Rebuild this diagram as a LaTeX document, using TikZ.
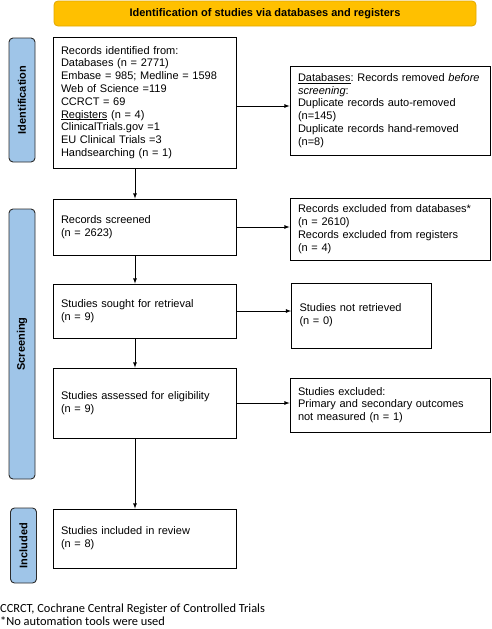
\documentclass[tikz,border=0pt]{standalone}
\usepackage{fontspec}
\setmainfont{Liberation Sans}
\newfontfamily\notefont{Carlito}
\usetikzlibrary{arrows}
\definecolor{hdrfill}{HTML}{FFC000}
\definecolor{hdrdraw}{HTML}{E0A800}
\definecolor{phasefill}{HTML}{9FC5E8}
\definecolor{phasedraw}{HTML}{2B2B2B}
\newcommand{\ulword}[1]{\underline{\smash{#1}}}
\tikzset{
->, % connectors are directed
>=latex, % small filled arrow heads
box/.style={draw, line width=0.8pt, align=left, inner xsep=8pt, font=\frenchspacing\fontsize{11}{12.8}\selectfont}, % the record boxes
phase/.style={draw=phasedraw, fill=phasefill, line width=0.9pt, rounded corners=4pt, rotate=90, minimum height=26pt, font=\bfseries\fontsize{11}{13}\selectfont}, % the stage labels on the left
}

\begin{document}
\begin{tikzpicture}[x=1pt, y=-1pt]
                \useasboundingbox (0,0) rectangle (491,629);
                \coordinate (spine) at (135,0);

                \node[draw=hdrdraw, fill=hdrfill, line width=0.8pt, rounded corners=4pt, minimum width=422pt, minimum height=25pt, font=\bfseries\fontsize{11}{13}\selectfont] (head) at (265,13.5) {Identification of studies via databases and registers};

                \node[phase, minimum width=124pt] (pid) at (22,100) {Identification};
                \node[phase, minimum width=270pt] (pscr) at (22,344) {Screening};
                \node[phase, minimum width=75pt] (pinc) at (23.5,545.5) {Included};

                \node[box, minimum width=183pt, minimum height=131pt, text width=167pt] (ident) at (144.5,102.5) {Records identified from:\\Databases (n = 2771)\\Embase = 985; Medline = 1598\\Web of Science =119\\CCRCT = 69\\\ulword{Registers} (n = 4)\\ClinicalTrials.gov =1\\EU Clinical Trials =3\\Handsearching (n = 1)};
                \node[box, minimum width=200pt, minimum height=89pt, text width=184pt] (removed) at (390,110.5) {\ulword{Databases}: Records removed \emph{before}\\\emph{screening}:\\Duplicate records auto-removed\\(n=145)\\Duplicate records hand-removed\\(n=8)};

                \node[box, minimum width=183pt, minimum height=56pt, text width=167pt] (screened) at (144.5,227) {Records screened\\(n = 2623)};
                \node[box, minimum width=200pt, minimum height=62pt, text width=184pt] (excl) at (390,229) {Records excluded from databases*\\(n = 2610)\\Records excluded from registers\\(n = 4)};

                \node[box, minimum width=183pt, minimum height=54pt, text width=167pt] (sought) at (144.5,311) {Studies sought for retrieval\\(n = 9)};
                \node[box, minimum width=140pt, minimum height=65pt, text width=124pt] (notret) at (361.5,315.5) {Studies not retrieved\\(n = 0)};

                \node[box, minimum width=183pt, minimum height=70pt, text width=167pt] (assessed) at (144.5,403) {Studies assessed for eligibility\\(n = 9)};
                \node[box, minimum width=200pt, minimum height=54pt, text width=184pt] (exclstud) at (390,405) {Studies excluded:\\Primary and secondary outcomes\\not measured (n = 1)};

                \node[box, minimum width=183pt, minimum height=59pt, text width=167pt] (incl) at (144.5,538.5) {Studies included in review\\(n = 8)};

                \node[anchor=base west, inner sep=0pt, align=left, font=\notefont\fontsize{12.4}{13.2}\selectfont] (note) at (0,625.5) {CCRCT, Cochrane Central Register of Controlled Trials\\*No automation tools were used};

                \draw[line width=0.8pt]
                    (spine |- ident.south) -- (spine |- screened.north);
                \draw[line width=0.8pt]
                    (spine |- screened.south) -- (spine |- sought.north);
                \draw[line width=0.8pt]
                    (spine |- sought.south) -- (spine |- assessed.north);
                \draw[line width=0.8pt]
                    (spine |- assessed.south) -- (spine |- incl.north);
                \draw[line width=0.8pt] ([yshift=-3.5pt]ident.east) -- ([yshift=-3.5pt]ident.east -| removed.west);
                \draw[line width=0.8pt] (screened.east) -- (screened.east -| excl.west);
                \draw[line width=0.8pt] (sought.east) -- (sought.east -| notret.west);
                \draw[line width=0.8pt] (assessed.east) -- (assessed.east -| exclstud.west);
                \end{tikzpicture}
\end{document}
